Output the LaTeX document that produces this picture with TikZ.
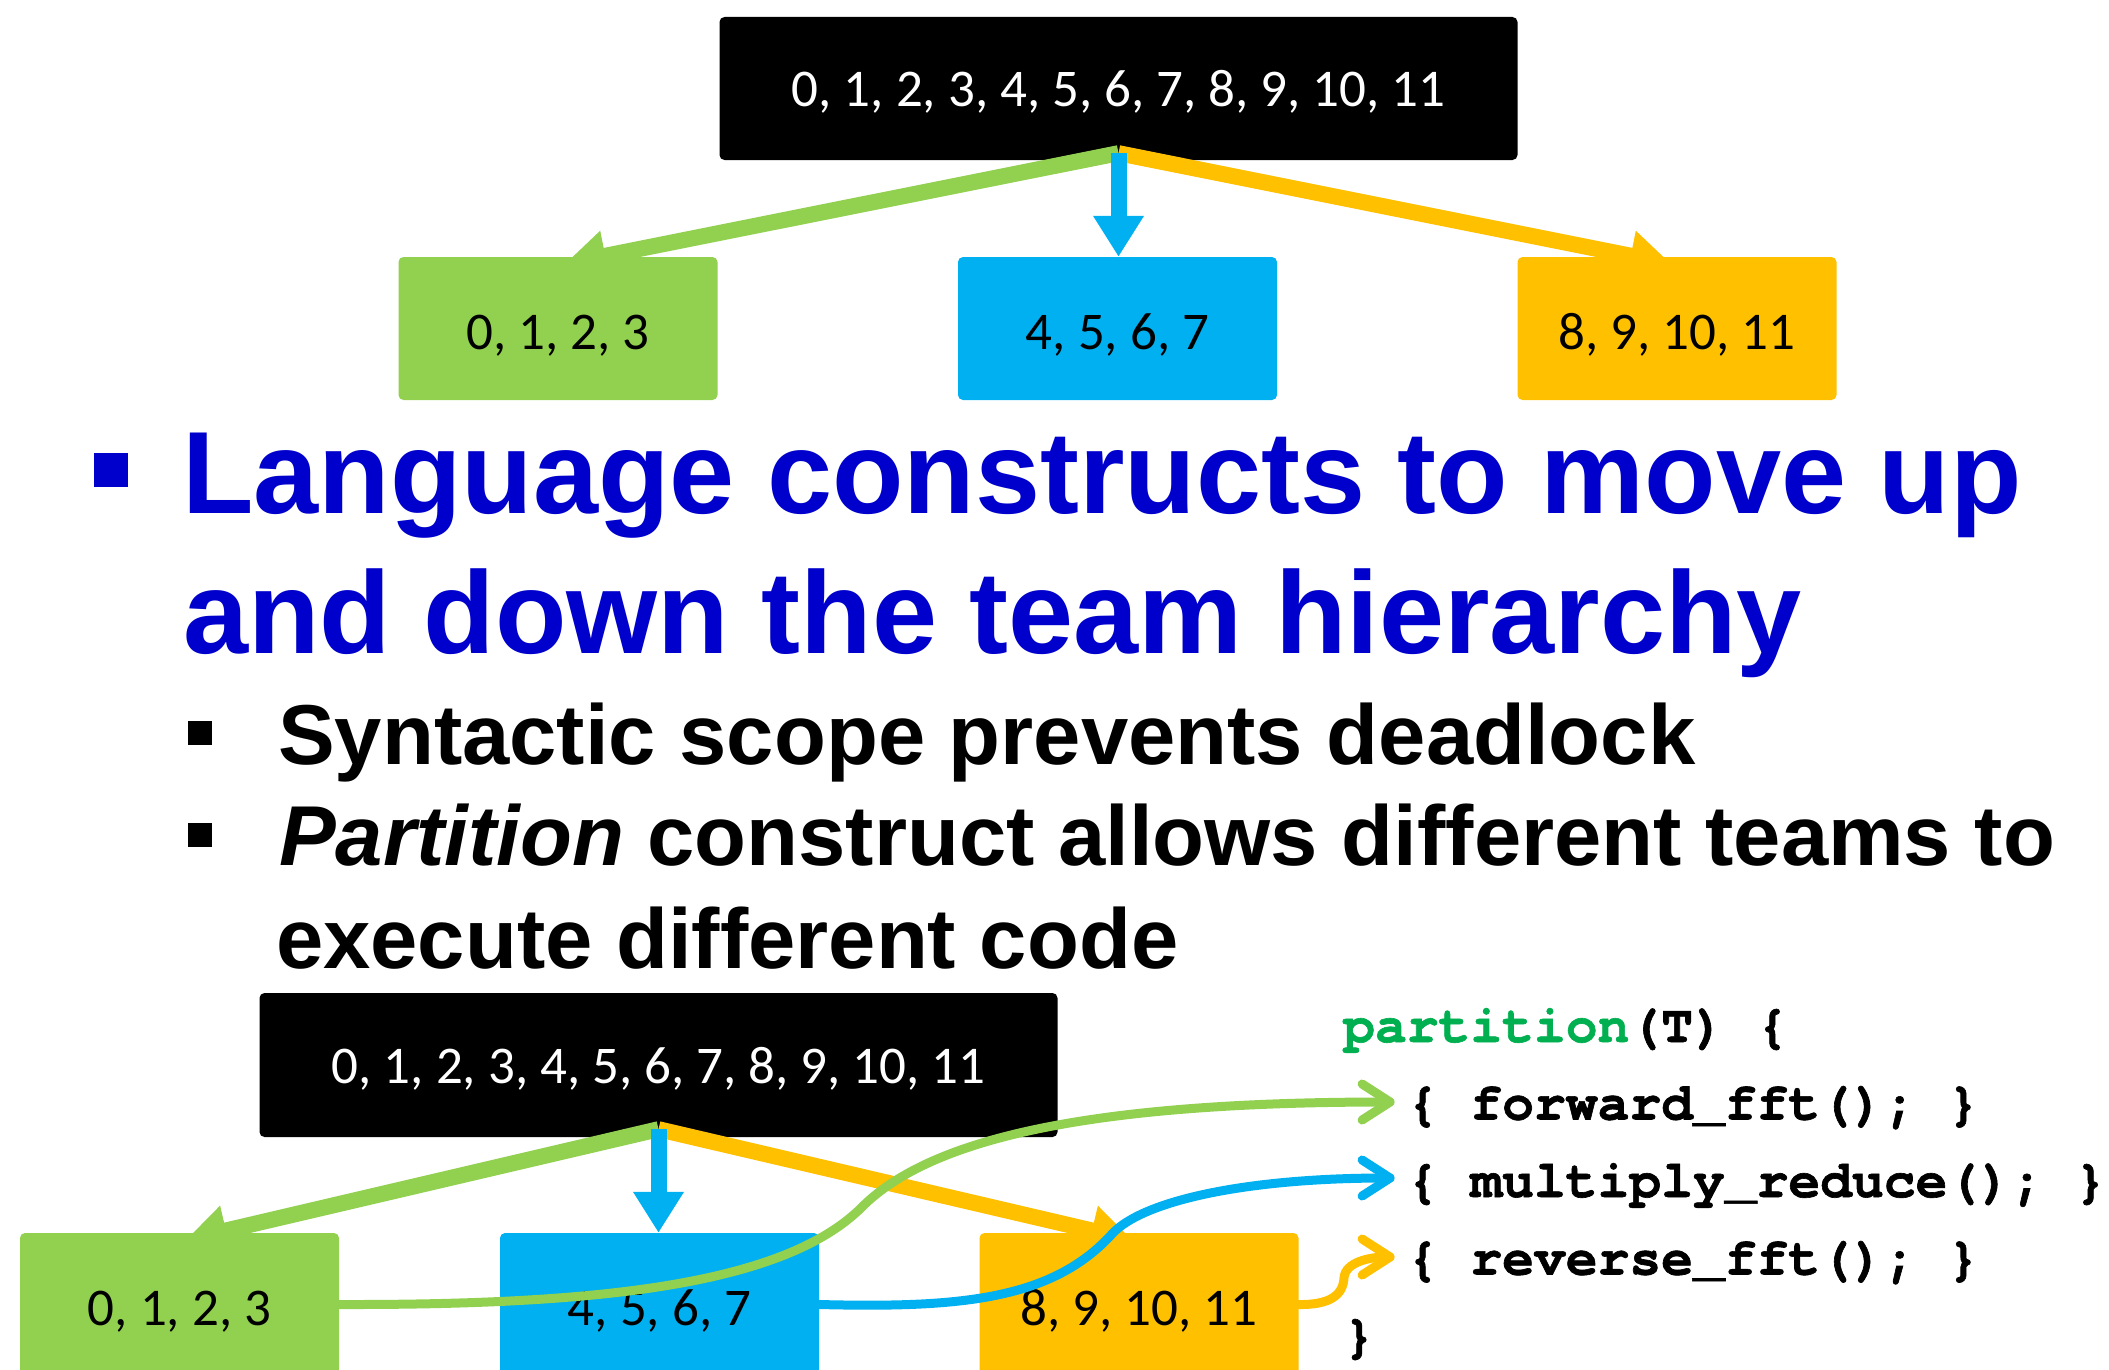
\documentclass[tikz,border=0pt]{standalone}
\usepackage{fontspec}
\setmainfont{Liberation Sans}
\newfontfamily\boxfont{Carlito}
\newfontfamily\codefont[Ligatures=NoCommon, BoldFeatures={FakeBold=1.2}]{TeX Gyre Cursor}
\usetikzlibrary{arrows.meta,calc}

\definecolor{tgreen}{RGB}{146,208,80}
\definecolor{tblue}{RGB}{0,176,240}
\definecolor{torange}{RGB}{255,192,0}
\definecolor{headblue}{RGB}{0,0,204}
\definecolor{kwgreen}{RGB}{0,176,80}

\pgfdeclarelayer{bg}
\pgfdeclarelayer{links}
\pgfdeclarelayer{front}
\pgfsetlayers{bg,links,main,front}

\tikzset{
  team/.style={rounded corners=5pt, minimum width=319pt, minimum height=143pt,
    inner sep=0pt, font=\boxfont\fontsize{53}{63}\selectfont, text=black,
    text height=41pt, text depth=0pt},
  allbox/.style={team, fill=black, text=white, minimum width=798pt,
    text height=36pt},
  split/.style={line width=16pt, -{Triangle[length=41pt,width=48pt]}},
  jump/.style={line width=9pt, line cap=round,
    -{Straight Barb[length=28pt,width=36pt,round]}},
  headline/.style={anchor=base west, inner sep=0pt, text=headblue,
    font=\bfseries\fontsize{117}{140}\selectfont},
  subline/.style={anchor=base west, inner sep=0pt, text=black,
    font=\bfseries\fontsize{85}{102}\selectfont},
  codeline/.style={anchor=base west, inner sep=0pt, text=black,
    font=\codefont\bfseries\fontsize{53}{64}\selectfont},
  bulletsq/.style={fill=#1, inner sep=0pt},
}

\begin{document}
\begin{tikzpicture}[x=1pt, y=-1pt]
\useasboundingbox (0,0) rectangle (2109,1370);

% ---------- upper team tree ----------
\begin{pgfonlayer}{bg}
  \fill[white] (0,0) rectangle (2109,1370);
  \node[allbox] (T) at (1118.5,88.5) {0, 1, 2, 3, 4, 5, 6, 7, 8, 9, 10, 11};
\end{pgfonlayer}
\node[team, fill=tgreen]  (A) at (558,328.5)    {0, 1, 2, 3};
\node[team, fill=tblue]   (B) at (1117.5,328.5) {4, 5, 6, 7};
\node[team, fill=torange] (C) at (1677,328.5)   {8, 9, 10, 11};
\begin{pgfonlayer}{links}
  \draw[split, tgreen]  ($(T.south)+(0,-7)$) -- ($(A.north)+(7,7)$);
  \draw[split, torange] ($(T.south)+(0,-7)$) -- ($(C.north)+(-6,7)$);
  \draw[split, tblue]   ($(T.south)+(0,-7)$) -- (T.south |- B.north);
\end{pgfonlayer}

% ---------- bullet text ----------
\node[bulletsq=headblue, minimum size=34pt] (hb) at (111,470) {};
\node[headline] (h1) at (182,513) {Language constructs to move up};
\node[headline] (h2) at (183,653) {and down the team hierarchy};

\node[bulletsq=black, minimum size=24pt] (sb1) at (200,733) {};
\node[subline] (s1) at (278,764) {Syntactic scope prevents deadlock};
\node[bulletsq=black, minimum size=24pt] (sb2) at (200,834.5) {};
\node[subline] (s2) at (279,865) {\textit{Partition} construct allows different teams to};
\node[subline] (s3) at (276,968) {execute different code};

% ---------- lower team tree ----------
\begin{pgfonlayer}{bg}
  \node[allbox, minimum height=144pt] (U) at (658.5,1065) {0, 1, 2, 3, 4, 5, 6, 7, 8, 9, 10, 11};
\end{pgfonlayer}
\node[team, fill=tgreen]  (P) at (179.5,1304.5) {0, 1, 2, 3};
\node[team, fill=tblue]   (Q) at (659.5,1304.5) {4, 5, 6, 7};
\node[team, fill=torange] (R) at (1139,1304.5)  {8, 9, 10, 11};
\begin{pgfonlayer}{links}
  \draw[split, tgreen]  ($(U.south)+(0,-8)$) -- ($(P.north)+(6.5,7)$);
  \draw[split, torange] ($(U.south)+(0,-8)$) -- ($(R.north)+(-7,7)$);
  \draw[split, tblue]   ($(U.south)+(0,-8)$) -- (U.south |- Q.north);
\end{pgfonlayer}

% ---------- partition code ----------
\node[codeline] (c0) at (1343,1042)    {\textcolor{kwgreen}{partition}(T) \{};
\node[codeline] (c1) at (1406.6,1119.5) {\{ forward\_fft(); \}};
\node[codeline] (c2) at (1406.6,1197)   {\{ multiply\_reduce(); \}};
\node[codeline] (c3) at (1406.6,1274.5) {\{ reverse\_fft(); \}};
\node[codeline] (c4) at (1343,1352)    {\}};

% ---------- teams routed to their branches ----------
\begin{pgfonlayer}{front}
  \draw[jump, tgreen] (P.east)
    .. controls (589,1305) and (782,1287) .. (862,1207)
    .. controls (932,1137) and (1095,1102) .. ($(c1.base west)+(-12,-17.5)$);
  \draw[jump, tblue] (Q.east)
    .. controls (960,1308) and (1052,1300) .. (1112,1234)
    .. controls (1142,1201) and (1245,1178) .. ($(c2.base west)+(-12,-19)$);
  \draw[jump, torange] (R.east)
    .. controls (1330,1305) and (1343,1295) .. (1344,1278)
    .. controls (1345,1262) and (1370,1257) .. ($(c3.base west)+(-12,-17.5)$);
\end{pgfonlayer}
\end{tikzpicture}
\end{document}
